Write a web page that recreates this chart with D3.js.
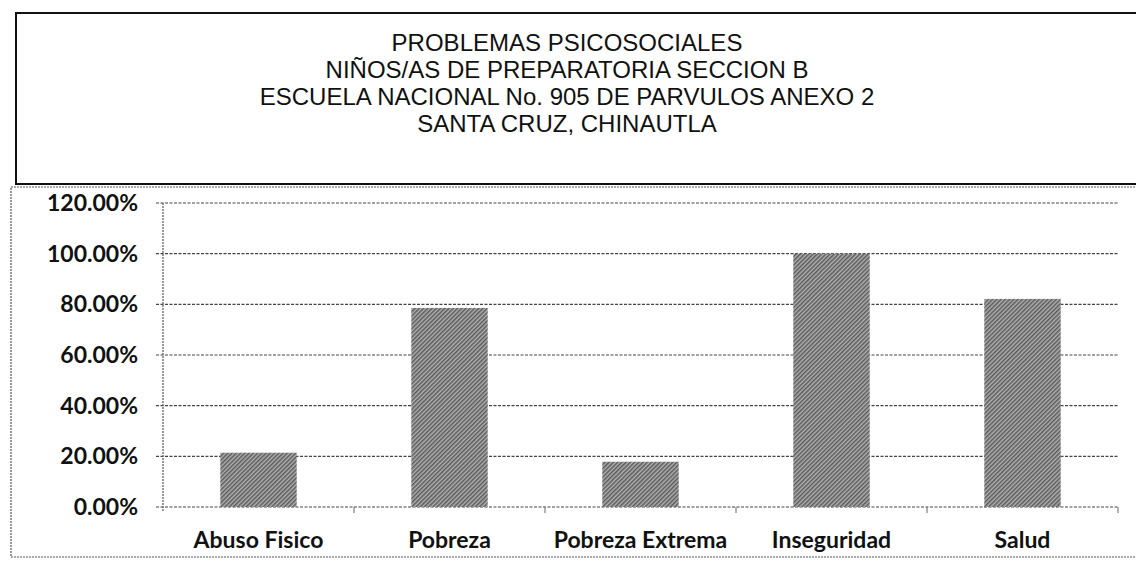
<!DOCTYPE html>
<html>
<head>
  <meta charset="UTF-8">
  <title>Problemas psicosociales</title>
  <script src="https://d3js.org/d3.v7.min.js"></script>
  <style>
    body { margin: 0; background: #fff; }
    .title { font-family: 'Liberation Sans', Arial, sans-serif; font-size: 24px; fill: #111; }
    .axis text { font-family: Lato, 'Open Sans', sans-serif; font-weight: bold; font-size: 23px; fill: #111; }
    .cat { font-family: Lato, 'Open Sans', sans-serif; font-weight: bold; font-size: 23px; fill: #111; }
  </style>
</head>
<body>
<div class="chart"></div>
<script>
  var titleLines = [
    'PROBLEMAS PSICOSOCIALES',
    'NIÑOS/AS DE PREPARATORIA SECCION B',
    'ESCUELA NACIONAL No. 905 DE PARVULOS ANEXO 2',
    'SANTA CRUZ, CHINAUTLA'
  ];
  var categories = ['Abuso Fisico', 'Pobreza', 'Pobreza Extrema', 'Inseguridad', 'Salud'];
  var values = [0.2143, 0.7857, 0.1786, 1.0, 0.8214];
  var yTicks = [0, 0.2, 0.4, 0.6, 0.8, 1.0, 1.2];

  var W = 1136, H = 561;
  var margin = { top: 203, right: 18, bottom: 54, left: 163 };
  var width = W - margin.left - margin.right;
  var height = H - margin.top - margin.bottom;

  var svg = d3.select('.chart')
    .append('svg')
      .attr('width', W)
      .attr('height', H);

  // hatched fill like the scanned bars
  var pat = svg.append('defs').append('pattern')
    .attr('id', 'hatch')
    .attr('patternUnits', 'userSpaceOnUse')
    .attr('width', 3).attr('height', 3)
    .attr('patternTransform', 'rotate(45)');
  pat.append('rect').attr('width', 3).attr('height', 3).attr('fill', '#b0b0b0');
  pat.append('rect').attr('width', 1.5).attr('height', 3).attr('fill', '#5a5a5a');

  // title box
  svg.append('rect')
    .attr('x', 16).attr('y', 13)
    .attr('width', W).attr('height', 171)
    .attr('fill', 'none').attr('stroke', '#111').attr('stroke-width', 2);

  svg.selectAll('.title')
    .data(titleLines)
    .enter().append('text')
    .attr('class', 'title')
    .attr('x', 567)
    .attr('y', (d, i) => 51 + i * 27)
    .attr('text-anchor', 'middle')
    .text(d => d);

  // outer chart border (dotted)
  svg.append('rect')
    .attr('x', 11).attr('y', 187)
    .attr('width', W).attr('height', 370)
    .attr('fill', 'none').attr('stroke', '#555')
    .attr('stroke-width', 1.2).attr('stroke-dasharray', '2,1');

  var g = svg.append('g')
    .attr('transform', 'translate(' + margin.left + ',' + margin.top + ')');

  var yScale = d3.scaleLinear()
    .domain([0, 1.2])
    .range([height, 0]);

  var xScale = d3.scaleBand()
    .domain(categories)
    .range([0, width])
    .paddingInner(0.6)
    .paddingOuter(0.3);

  // gridlines
  g.selectAll('.grid')
    .data(yTicks)
    .enter().append('line')
    .attr('x1', -7).attr('x2', width)
    .attr('y1', d => yScale(d)).attr('y2', d => yScale(d))
    .attr('stroke', '#444').attr('stroke-width', 1.2)
    .attr('stroke-dasharray', '3,1.5');

  // y axis
  var yAxis = d3.axisLeft(yScale)
    .tickValues(yTicks)
    .tickFormat(d3.format('.2%'))
    .tickSize(0)
    .tickPadding(25);
  var ya = g.append('g').attr('class', 'axis').call(yAxis);
  ya.select('.domain').remove();

  g.append('line')
    .attr('x1', 0).attr('x2', 0)
    .attr('y1', 0).attr('y2', height + 4)
    .attr('stroke', '#555').attr('stroke-width', 1.2)
    .attr('stroke-dasharray', '2,1');

  // bars
  g.selectAll('.bar')
    .data(values)
    .enter().append('rect')
    .attr('class', 'bar')
    .attr('x', (d, i) => xScale(categories[i]))
    .attr('y', d => yScale(d))
    .attr('width', xScale.bandwidth())
    .attr('height', d => height - yScale(d))
    .attr('fill', 'url(#hatch)');

  // category tick marks between bands
  g.selectAll('.xtick')
    .data(d3.range(1, categories.length + 1))
    .enter().append('line')
    .attr('x1', d => d * width / categories.length)
    .attr('x2', d => d * width / categories.length)
    .attr('y1', height).attr('y2', height + 6)
    .attr('stroke', '#666').attr('stroke-width', 1);

  // category labels
  g.selectAll('.cat')
    .data(categories)
    .enter().append('text')
    .attr('class', 'cat')
    .attr('x', d => xScale(d) + xScale.bandwidth() / 2)
    .attr('y', height + 41)
    .attr('text-anchor', 'middle')
    .text(d => d);
</script>
</body>
</html>
